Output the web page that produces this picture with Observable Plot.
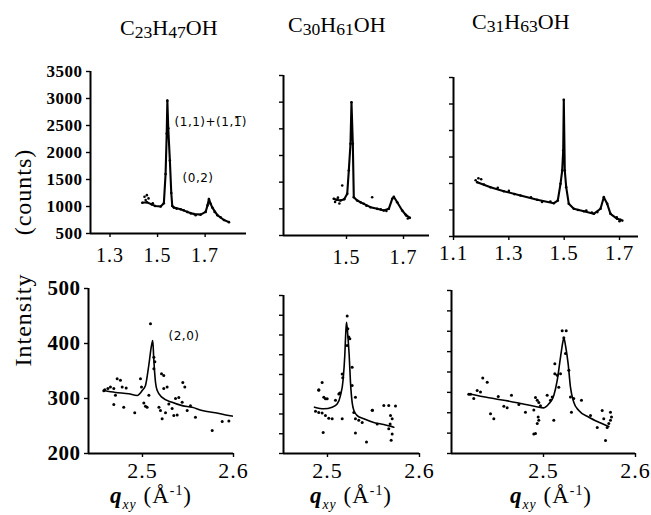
<!DOCTYPE html>
<html><head><meta charset="utf-8">
<script src="https://cdn.jsdelivr.net/npm/d3@7"></script>
<script src="https://cdn.jsdelivr.net/npm/@observablehq/plot@0.6"></script>
<style>
body{margin:0;background:#fff;}
#fig{position:relative;width:651px;height:515px;overflow:hidden;background:#fff;font-family:"Liberation Serif","Times New Roman",serif;color:#000}
.title{position:absolute;font-family:"Liberation Serif","Times New Roman",serif;font-size:22px;line-height:1;white-space:nowrap;color:#000}
.title sub{font-size:0.8em;vertical-align:-0.18em;line-height:0}
.ylab{position:absolute;font-family:"Liberation Serif","Times New Roman",serif;font-size:24px;line-height:1;white-space:nowrap;letter-spacing:1px;color:#000;transform:translate(-50%,-50%) rotate(-90deg)}
.xlab{position:absolute;font-family:"Liberation Serif","Times New Roman",serif;font-size:23px;line-height:1;white-space:nowrap;letter-spacing:1px;color:#000}
.xlab .q{font-style:italic;font-weight:bold}
.xlab sub{font-size:0.6em;font-style:italic;vertical-align:-0.45em;line-height:0}
.xlab sup{font-size:0.6em;vertical-align:0.6em;line-height:0}
</style></head>
<body><div id="fig"></div>
<script>
// ---------- data ----------
const titleFormulas = [["C","23","H","47","OH"],["C","30","H","61","OH"],["C","31","H","63","OH"]];
const yAxisWords = ["Intensity", "(counts)"];

const topYTicks = [500,1000,1500,2000,2500,3000,3500];
const tlXTicks = [1.3,1.5,1.7];
const tmXTicks = [1.5,1.7];
const trXTicks = [1.1,1.3,1.5,1.7];
const bottomXTicks = [2.5,2.6];
const blYTicks = [200,300,400,500];
const bmYTicks = [200,237.5,275,312.5,350,387.5,425,462.5,500];
const brYTicks = [200,237.5,275,312.5,350,387.5,425,462.5,500];

// C23H47OH, top
const tlCurve = [[1.436,1070],[1.455,1080],[1.475,1040],[1.49,1010],[1.513,1000],[1.5265,1060],[1.5337,1600],[1.5385,2350],[1.5412,2960],[1.545,2450],[1.5518,1850],[1.5577,1250],[1.5619,1010],[1.5686,980],[1.5968,950],[1.625,900],[1.6528,860],[1.6811,850],[1.7021,900],[1.71,1020],[1.716,1140],[1.723,1050],[1.7303,980],[1.7514,840],[1.7792,750],[1.8002,710]];
const tlExtra = [[1.445,1180],[1.455,1210],[1.462,1150],[1.45,1120],[1.48,1060],[1.58,960],[1.61,930],[1.64,870],[1.66,840],[1.74,900],[1.765,800]];
const tlLabels = [[1.5716,2556,"(1,1)+(1,1\u0305)"],[1.6053,1519,"(0,2)"]];

// C30H61OH, top
const tmCurve = [[1.4554,1188],[1.465,1170],[1.4789,1156],[1.492,1180],[1.5025,1281],[1.5081,1719],[1.514,2219],[1.5175,2999],[1.5222,2219],[1.5256,1218],[1.5375,1156],[1.5607,1094],[1.5842,1031],[1.6077,1000],[1.6309,969],[1.6484,1000],[1.6604,1188],[1.666,1226],[1.6779,1124],[1.6954,969],[1.707,894],[1.7221,831]];
const tmExtra = [[1.485,1437],[1.59,1218],[1.46,1130],[1.47,1210],[1.475,1100],[1.55,1120],[1.57,1060],[1.62,990],[1.64,960],[1.71,870],[1.715,820]];

// C31H63OH, top
const trCurve = [[1.1857,1525],[1.2337,1430],[1.2818,1355],[1.3421,1274],[1.4025,1193],[1.4625,1128],[1.4769,1179],[1.4867,1494],[1.4928,1745],[1.4965,2123],[1.4986,3080],[1.5022,1745],[1.5073,1430],[1.5167,1117],[1.5348,1023],[1.5709,977],[1.607,928],[1.6313,1023],[1.6432,1242],[1.6555,1117],[1.6674,928],[1.6916,834],[1.7035,815]];
const trExtra = [[1.19,1600],[1.2,1580],[1.18,1560],[1.21,1480],[1.26,1420],[1.3,1360],[1.32,1300],[1.38,1240],[1.42,1150],[1.45,1160],[1.55,1000],[1.58,990],[1.6,950],[1.62,960],[1.69,860],[1.70,790],[1.71,800]];

// C23H47OH, bottom
const blCurve = [[2.4575,314.5],[2.4703,311],[2.485,308.5],[2.4942,305.5],[2.4997,314.5],[2.5033,323.6],[2.5069,360],[2.5099,396],[2.5113,405.5],[2.5124,372],[2.5143,329.6],[2.5162,314.5],[2.5216,302],[2.5326,293],[2.5436,287],[2.5546,284],[2.5656,278],[2.5802,274],[2.5948,269],[2.5986,268]];
const blPoints = [[2.4575,314],[2.462,318],[2.4586,316],[2.4648,321],[2.4685,318],[2.4722,336],[2.4758,333],[2.4777,321],[2.4821,319],[2.4703,306],[2.4685,289],[2.4794,284],[2.4915,274],[2.4978,336],[2.4989,321],[2.5015,292],[2.5033,286],[2.5051,284],[2.507,306],[2.5088,436],[2.5125,375],[2.5136,367],[2.5125,354],[2.5209,345],[2.5234,342],[2.5181,284],[2.5198,278],[2.5234,318],[2.5271,321],[2.5216,263],[2.5253,274],[2.5289,290],[2.5326,282],[2.5344,269],[2.5381,270],[2.5363,300],[2.5399,302],[2.5436,293],[2.5443,329],[2.5465,321],[2.5491,278],[2.5527,287],[2.5582,266],[2.5766,242],[2.5876,258],[2.5949,259]];
const blLabels = [[2.5286,412.7,"(2,0)"]];

// C30H61OH, bottom
const bmCurve = [[2.4859,288],[2.496,285],[2.5051,288],[2.5105,294],[2.5141,310],[2.5171,342],[2.5188,386],[2.5199,430],[2.5207,449],[2.5221,424],[2.5236,386],[2.525,335],[2.5268,297],[2.5286,282],[2.5323,272],[2.5395,266],[2.5503,259],[2.5612,255],[2.5685,252],[2.5721,250]];
const bmPoints = [[2.487,280],[2.4905,278],[2.4942,277],[2.4978,272],[2.5014,267],[2.5051,266],[2.4942,335],[2.4905,320],[2.496,307],[2.4978,304],[2.5087,301],[2.516,266],[2.4953,240],[2.5304,239],[2.5123,313],[2.516,351],[2.5214,461],[2.5221,437],[2.5232,421],[2.5243,418],[2.5214,405],[2.5268,329],[2.5304,307],[2.5286,278],[2.5304,266],[2.534,263],[2.5377,259],[2.5486,282],[2.554,256],[2.5612,291],[2.5666,291],[2.5739,290],[2.5685,272],[2.5703,266],[2.5681,256],[2.5666,247],[2.5703,237],[2.5424,222],[2.5692,225],[2.4906,321],[2.4997,304],[2.5134,315],[2.5166,344],[2.5268,364],[2.5489,282]];

// C31H63OH, bottom
const brCurve = [[2.4188,309.9],[2.4406,302.5],[2.4587,297.5],[2.4768,291.5],[2.4913,286.5],[2.5003,284],[2.5058,291.5],[2.5112,306.8],[2.5149,334.4],[2.5185,377.3],[2.521,404.9],[2.5221,413],[2.5239,398.8],[2.5268,365],[2.5293,322],[2.5329,294.4],[2.5384,279],[2.5493,266.8],[2.5601,257.6],[2.571,249.7]];
const brPoints = [[2.4188,309],[2.4207,309],[2.4242,301],[2.4279,316],[2.4315,313],[2.434,339],[2.4388,331],[2.4424,273],[2.446,264],[2.4508,305],[2.4569,287],[2.4605,284],[2.4652,307],[2.4732,290],[2.4804,276],[2.4895,280],[2.4913,303],[2.4932,298],[2.4949,294],[2.4967,288],[2.4942,267],[2.4949,261],[2.4932,255],[2.4913,237],[2.4895,236],[2.504,307],[2.5076,298],[2.5095,304],[2.5123,365],[2.5123,347],[2.5149,344],[2.5166,322],[2.5185,347],[2.5203,426],[2.5247,426],[2.5221,413],[2.5239,384],[2.5275,353],[2.5293,304],[2.5304,276],[2.5329,301],[2.5413,298],[2.5112,261],[2.5511,270],[2.5584,248],[2.5638,279],[2.5655,264],[2.5692,248],[2.571,255],[2.5728,276],[2.5739,267],[2.5728,261],[2.5674,224]];

// ---------- layout ----------
const fig = document.getElementById("fig");
const SERIF = '"Liberation Serif", "Times New Roman", serif';

const panels = [
  {L:90, R:246, T:71, B:233, xDomain:[1.218,1.874], yDomain:[500,3500], xTicks:tlXTicks, yTicks:topYTicks, yLabels:true,
   xFont:20, xPad:10, yFont:17, curve:tlCurve, points:tlCurve.concat(tlExtra), labels:tlLabels, lineW:2.1, r:1.3, curveType:"linear"},
  {L:283, R:429, T:75, B:235, xDomain:[1.279,1.7912], yDomain:[500,3500], xTicks:tmXTicks, yTicks:topYTicks, yLabels:false,
   xFont:20, xPad:10, yFont:17, curve:tmCurve, points:tmCurve.concat(tmExtra), labels:[], lineW:2.1, r:1.3, curveType:"linear"},
  {L:453, R:638, T:77, B:236, xDomain:[1.1,1.7686], yDomain:[500,3500], xTicks:trXTicks, yTicks:topYTicks, yLabels:false,
   xFont:21, xPad:5, yFont:17, curve:trCurve, points:trCurve.concat(trExtra), labels:[], lineW:2.1, r:1.3, curveType:"linear"},
  {L:88, R:233, T:288, B:453, xDomain:[2.4407,2.6], yDomain:[200,500], xTicks:bottomXTicks, yTicks:blYTicks, yLabels:true,
   xFont:22, xPad:5, yFont:21, curve:blCurve, points:blPoints, labels:blLabels, lineW:1.6, r:1.5, curveType:"monotone-x"},
  {L:283, R:419, T:295, B:453, xDomain:[2.4522,2.6], yDomain:[200,500], xTicks:bottomXTicks, yTicks:bmYTicks, yLabels:false,
   xFont:22, xPad:5, yFont:21, curve:bmCurve, points:bmPoints, labels:[], lineW:1.6, r:1.5, curveType:"monotone-x"},
  {L:451, R:635, T:290, B:453, xDomain:[2.4,2.6], yDomain:[200,500], xTicks:bottomXTicks, yTicks:brYTicks, yLabels:false,
   xFont:22, xPad:5, yFont:21, curve:brCurve, points:brPoints, labels:[], lineW:1.6, r:1.5, curveType:"monotone-x"}
];

function makePanel(s) {
  const ml = 55, mr = 10, mt = 8, mb = 40;
  const plot = Plot.plot({
    width: s.R - s.L + ml + mr,
    height: s.B - s.T + mt + mb,
    marginLeft: ml, marginRight: mr, marginTop: mt, marginBottom: mb,
    x: {domain: s.xDomain},
    y: {domain: s.yDomain},
    style: {background: "transparent", overflow: "visible", fontFamily: SERIF, color: "#000"},
    marks: [
      Plot.axisX(s.xTicks, {tickSize: 4, tickPadding: s.xPad, tickFormat: d => d.toFixed(1), fontSize: s.xFont, label: null, strokeWidth: 1.4}),
      Plot.axisY(s.yTicks, {tickSize: 4, tickPadding: 4, tickFormat: s.yLabels ? (d => String(d)) : (() => ""), fontSize: s.yFont, label: null, strokeWidth: 1.4}),
      Plot.ruleX([s.xDomain[0]], {strokeWidth: 2}),
      Plot.ruleY([s.yDomain[0]], {strokeWidth: 2}),
      Plot.line(s.curve, {x: d => d[0], y: d => d[1], strokeWidth: s.lineW, curve: s.curveType}),
      Plot.dot(s.points, {x: d => d[0], y: d => d[1], r: s.r, fill: "#000"}),
      Plot.text(s.labels, {x: d => d[0], y: d => d[1], text: d => d[2], textAnchor: "start", fontSize: 12, fontFamily: '"DejaVu Sans", sans-serif'})
    ]
  });
  plot.style.position = "absolute";
  plot.style.left = (s.L - ml) + "px";
  plot.style.top = (s.T - mt) + "px";
  plot.querySelectorAll('g[aria-label="x-axis tick label"] text').forEach(t => {
    t.setAttribute("letter-spacing", "1");
    t.setAttribute("font-family", SERIF);
    t.style.fontFamily = SERIF;
  });
  plot.querySelectorAll('g[aria-label="y-axis tick label"] text').forEach(t => {
    t.setAttribute("letter-spacing", "0.5");
    t.setAttribute("font-weight", "bold");
    t.style.fontWeight = "bold";
    t.style.fontFamily = SERIF;
  });
  plot.querySelectorAll('g[aria-label="text"] text').forEach(t => t.setAttribute("letter-spacing", "0.5"));
  fig.appendChild(plot);
}
panels.forEach(makePanel);

// titles
const titlePos = [{left:120, top:17},{left:288, top:14},{left:472, top:11}];
titleFormulas.forEach((parts, i) => {
  const d = document.createElement("div");
  d.className = "title";
  d.style.left = titlePos[i].left + "px";
  d.style.top = titlePos[i].top + "px";
  d.innerHTML = parts[0] + "<sub>" + parts[1] + "</sub>" + parts[2] + "<sub>" + parts[3] + "</sub>" + parts[4];
  fig.appendChild(d);
});

// y-axis title (two words, rotated)
const yLabPos = [{x:23, y:320},{x:23, y:192}];
yAxisWords.forEach((w, i) => {
  const d = document.createElement("div");
  d.className = "ylab";
  d.style.left = yLabPos[i].x + "px";
  d.style.top = yLabPos[i].y + "px";
  d.textContent = w;
  fig.appendChild(d);
});

// x-axis titles
const xLabLefts = [110, 310, 510];
xLabLefts.forEach(l => {
  const d = document.createElement("div");
  d.className = "xlab";
  d.style.left = l + "px";
  d.style.top = "484px";
  d.innerHTML = '<span class="q">q</span><sub>xy</sub> (Å<sup>-1</sup>)';
  fig.appendChild(d);
});
</script>
</body></html>
